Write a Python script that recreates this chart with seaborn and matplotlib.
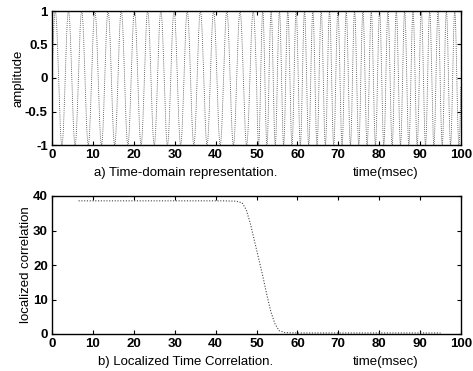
#!/usr/bin/env python3
"""Time-domain signal and its localized time correlation
"""

import numpy as np
import pandas as pd
import matplotlib
matplotlib.use("Agg")
import matplotlib.pyplot as plt
import seaborn as sns

# signal segments: start time (msec), end time (msec), frequency (cycles/msec)
seg_start = [0.0, 50.0]
seg_end = [50.0, 100.0]
seg_freq = [0.31, 0.49]

# localized correlation
corr_time = [6.5, 15, 25, 35, 42, 45, 46.5, 47.5, 48.5, 49.5, 50.5, 51.5,
             52.5, 53.5, 54.5, 55.5, 57, 60, 70, 80, 90, 95]
corr_val = [38.6, 38.6, 38.6, 38.6, 38.6, 38.5, 38.0, 36.0, 32.0, 27.0, 22.0,
            17.0, 11.5, 6.5, 3.0, 1.0, 0.4, 0.3, 0.3, 0.3, 0.3, 0.3]

xticks = [0, 10, 20, 30, 40, 50, 60, 70, 80, 90, 100]


def main():
    sns.set_style("ticks")
    plt.rcParams['font.family'] = ['Liberation Sans', 'DejaVu Sans']
    plt.rcParams['xtick.direction'] = 'in'
    plt.rcParams['ytick.direction'] = 'in'
    plt.rcParams['text.color'] = 'black'
    plt.rcParams['axes.labelcolor'] = 'black'

    # build the sampled waveform from the segment table
    t_parts, y_parts = [], []
    for a, b, f in zip(seg_start, seg_end, seg_freq):
        t = np.arange(a, b, 0.04)
        t_parts.append(t)
        y_parts.append(np.sin(2 * np.pi * f * t))
    sig = pd.DataFrame({'time': np.concatenate(t_parts),
                        'amp': np.concatenate(y_parts)})
    corr = pd.DataFrame({'time': corr_time, 'corr': corr_val})

    fig = plt.figure(figsize=(4.73, 3.71), dpi=100)
    ax1 = fig.add_axes([52 / 473, 1 - 145 / 371, 409 / 473, 134 / 371])
    ax2 = fig.add_axes([52 / 473, 1 - 334 / 371, 409 / 473, 138 / 371])

    sns.lineplot(data=sig, x='time', y='amp', ax=ax1, color='#3a3a3a',
                 linestyle=(0, (1, 1.5)), linewidth=0.6, sort=False)
    sns.lineplot(data=corr, x='time', y='corr', ax=ax2, color='#444444',
                 linestyle=(0, (1, 1.5)), linewidth=0.8, sort=False)

    ax1.set_xlim(0, 100)
    ax1.set_ylim(-1, 1)
    ax1.set_yticks([-1, -0.5, 0, 0.5, 1])
    ax1.set_yticklabels(['-1', '-0.5', '0', '0.5', '1'])
    ax1.set_ylabel('amplitude', fontsize=9.5, labelpad=0)

    ax2.set_xlim(0, 100)
    ax2.set_ylim(0, 40)
    ax2.set_yticks([0, 10, 20, 30, 40])
    ax2.set_ylabel('localized correlation', fontsize=9.5, labelpad=1)

    for ax in (ax1, ax2):
        ax.set_xticks(xticks)
        ax.set_xlabel('')
        ax.tick_params(labelsize=9.5, length=3, width=0.8, pad=3,
                       top=True, right=True, labelcolor='black',
                       color='black')
        for s in ax.spines.values():
            s.set_linewidth(1.0)
            s.set_color('black')
        for lab in ax.get_xticklabels() + ax.get_yticklabels():
            lab.set_fontweight('bold')

    fig.text(186 / 473, 1 - 173 / 371, 'a) Time-domain representation.',
             fontsize=9.5, ha='center', va='center')
    fig.text(386 / 473, 1 - 173 / 371, 'time(msec)',
             fontsize=9.5, ha='center', va='center')
    fig.text(186 / 473, 1 - 362 / 371, 'b) Localized Time Correlation.',
             fontsize=9.5, ha='center', va='center')
    fig.text(386 / 473, 1 - 362 / 371, 'time(msec)',
             fontsize=9.5, ha='center', va='center')

    fig.savefig('out.png', dpi=100)


if __name__ == '__main__':
    main()
